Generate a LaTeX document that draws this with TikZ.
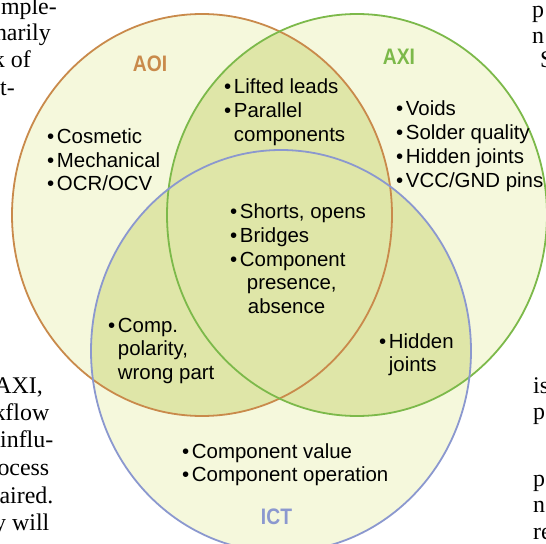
\documentclass[tikz,border=0pt]{standalone}
\usepackage{fontspec}
\usepackage{graphicx}
\setmainfont{Liberation Sans}
\newfontfamily\pagefont{Liberation Serif}
\definecolor{aoicol}{HTML}{C98A4B}
\definecolor{axicol}{HTML}{7CB94A}
\definecolor{ictcol}{HTML}{8B98CF}
\definecolor{lightfill}{HTML}{F5F8DC}
\definecolor{darkfill}{HTML}{DFE6A8}
\newcommand\blist[1]{\begin{tabular}[t]{@{}l@{\hspace{2.6bp}}l@{}}#1\end{tabular}}
\newcommand\sq[1]{\scalebox{0.86}[1]{#1}}
\tikzset{
  listnode/.style={anchor=base west, inner sep=0pt, font=\fontsize{20.5}{23.8}\selectfont},
  setlabel/.style={anchor=base, inner sep=0pt, font=\fontsize{22.5}{24}\selectfont\bfseries},
  pagetext/.style={inner sep=0pt, font=\pagefont\fontsize{24}{27}\selectfont},
  leftfrag/.style={pagetext, anchor=base east},
  rightfrag/.style={pagetext, anchor=base west},
  ring/.style={line width=1.8bp}
}
\begin{document}
\begin{tikzpicture}[x=1bp,y=-1bp]
\useasboundingbox (0,0) rectangle (546,544);
\fill[white] (0,0) rectangle (546,544);
\coordinate (caoi) at (202,215);
\coordinate (caxi) at (357,215);
\coordinate (cict) at (281,351);
% light fills
\fill[lightfill] (caoi) ellipse [x radius=190, y radius=201];
\fill[lightfill] (caxi) ellipse [x radius=190, y radius=201];
\fill[lightfill] (cict) ellipse [x radius=190, y radius=201];
% overlaps
\begin{scope}
  \clip (caoi) ellipse [x radius=190, y radius=201];
  \fill[darkfill] (caxi) ellipse [x radius=190, y radius=201];
  \fill[darkfill] (cict) ellipse [x radius=190, y radius=201];
\end{scope}
\begin{scope}
  \clip (caxi) ellipse [x radius=190, y radius=201];
  \fill[darkfill] (cict) ellipse [x radius=190, y radius=201];
\end{scope}
% rings
\draw[ring, aoicol] (caoi) ellipse [x radius=190, y radius=201];
\draw[ring, axicol] (caxi) ellipse [x radius=190, y radius=201];
\draw[ring, ictcol] (cict) ellipse [x radius=190, y radius=201];
% set labels
\node[setlabel, text=aoicol] (laoi) at (150,71.4) {\sq{AOI}};
\node[setlabel, text=axicol] (laxi) at (399,64.4) {\sq{AXI}};
\node[setlabel, text=ictcol] (lict) at (276.5,524) {\sq{ICT}};
% lists
\node[listnode] (aoionly) at (47,143.5) {\blist{\textbullet&Cosmetic\\\textbullet&Mechanical\\\textbullet&OCR/OCV}};
\node[listnode] (aoiaxi) at (224,94) {\blist{\textbullet&Lifted leads\\\textbullet&Parallel\\&components}};
\node[listnode] (axionly) at (396,116) {\blist{\textbullet&Voids\\\textbullet&Solder quality\\\textbullet&Hidden joints\\\textbullet&VCC/GND pins}};
\node[listnode] (allthree) at (230,218.7) {\blist{\textbullet&Shorts, opens\\\textbullet&Bridges\\\textbullet&Component\\&\hspace*{7bp}presence,\\&\hspace*{8bp}absence}};
\node[listnode] (aoiict) at (108,332) {\blist{\textbullet&Comp.\\&polarity,\\&wrong part}};
\node[listnode] (axiict) at (379,348) {\blist{\textbullet&Hidden\\&joints}};
\node[listnode] (ictonly) at (182,458) {\blist{\textbullet&Component value\\\textbullet&Component operation}};
% page text fragments
\node[leftfrag] (f1) at (57,15) {mple-};
\node[leftfrag] (f2) at (51,41) {narily};
\node[leftfrag] (f3) at (31,68) {k of};
\node[leftfrag] (f4) at (15,96) {t-};
\node[leftfrag] (f5) at (43,393) {AXI,};
\node[leftfrag] (f6) at (49.5,420) {kflow};
\node[leftfrag] (f7) at (53.5,447) {influ-};
\node[leftfrag] (f8) at (49.5,475) {ocess};
\node[leftfrag] (f9) at (53.5,503) {aired.};
\node[leftfrag] (f10) at (49.5,530) {y will};
\node[rightfrag] (g1) at (532,18) {p};
\node[rightfrag] (g2) at (532,43.5) {n};
\node[rightfrag] (g3) at (540,67.5) {S};
\node[rightfrag] (g4) at (533,393) {is};
\node[rightfrag] (g5) at (533,419) {p};
\node[rightfrag] (g6) at (533,486) {p};
\node[rightfrag] (g7) at (533,512) {n};
\node[rightfrag] (g8) at (533,539) {re};
\end{tikzpicture}
\end{document}
